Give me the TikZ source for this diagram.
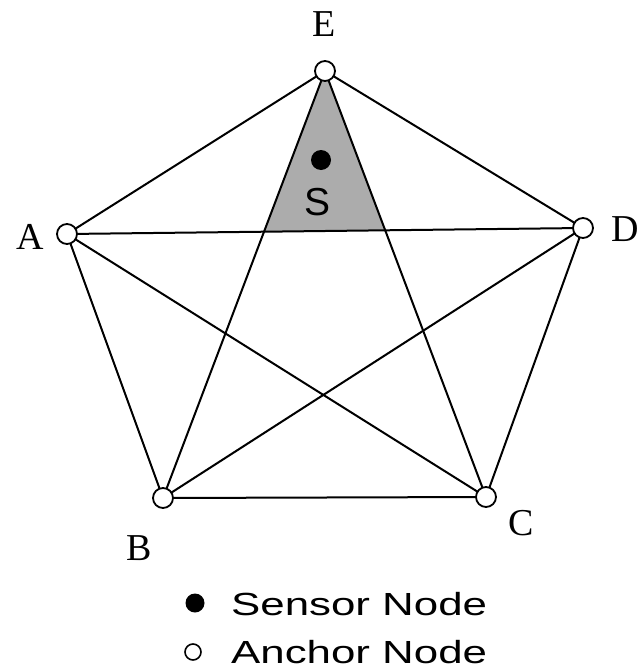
\documentclass[tikz,border=0pt]{standalone}
\usepackage{fontspec}
\setmainfont{Liberation Serif}
\newfontfamily\legendfont{Liberation Sans}
\usetikzlibrary{intersections}
\begin{document}
\begin{tikzpicture}[x=1pt,y=-1pt,
  edge/.style={line width=2pt,black},
  anchor node/.style={circle,draw=black,line width=1.8pt,fill=white,minimum size=20pt,inner sep=0pt},
  sensor dot/.style={circle,fill=black,minimum size=20pt,inner sep=0pt},
  vlabel/.style={font=\fontsize{38}{38}\selectfont,inner sep=0pt},
  legtext/.style={font=\legendfont\fontsize{32}{32}\selectfont,anchor=west,inner sep=0pt}]
\useasboundingbox (0,0) rectangle (639,672);
\fill[white] (0,0) rectangle (639,672);
\coordinate (E) at (325,71);
\coordinate (A) at (67,234);
\coordinate (D) at (583,228);
\coordinate (B) at (163,498);
\coordinate (C) at (486,497);
% shaded region
\path[name path=ad] (A) -- (D);
\path[name path=eb] (E) -- (B);
\path[name path=ec] (E) -- (C);
\path[name intersections={of=ad and eb,by=P}];
\path[name intersections={of=ad and ec,by=Q}];
\fill[fill={rgb,255:red,172;green,172;blue,172}] (E) -- (P) -- (Q) -- cycle;
% edges
\draw[edge] (A) -- (E);
\draw[edge] (E) -- (D);
\draw[edge] (D) -- (C);
\draw[edge] (C) -- (B);
\draw[edge] (B) -- (A);
\draw[edge] (A) -- (D);
\draw[edge] (A) -- (C);
\draw[edge] (E) -- (B);
\draw[edge] (E) -- (C);
\draw[edge] (B) -- (D);
% anchor nodes
\node[anchor node] (nE) at (E) {};
\node[anchor node] (nA) at (A) {};
\node[anchor node] (nD) at (D) {};
\node[anchor node] (nB) at (B) {};
\node[anchor node] (nC) at (C) {};
% labels
\node[vlabel] (lE) at (324,24) {E};
\node[vlabel] (lA) at (30,237) {A};
\node[vlabel,anchor=east] (lD) at (639,229) {D};
\node[vlabel] (lB) at (139,548) {B};
\node[vlabel] (lC) at (521,523) {C};
% sensor
\node[sensor dot] (S) at (321,160) {};
\node[font=\legendfont\fontsize{39}{39}\selectfont,inner sep=0pt] (lS) at (318,202) {S};
% legend
\node[sensor dot,minimum size=19pt] (legS) at (195,603) {};
\node[legtext] (legSt) at (231,604) {\scalebox{1.37}[1]{Sensor Node}};
\node[circle,draw=black,line width=1.6pt,fill=white,minimum size=16pt,inner sep=0pt] (legA) at (193,652) {};
\node[legtext] (legAt) at (231,652) {\scalebox{1.37}[1]{Anchor Node}};
\end{tikzpicture}
\end{document}
